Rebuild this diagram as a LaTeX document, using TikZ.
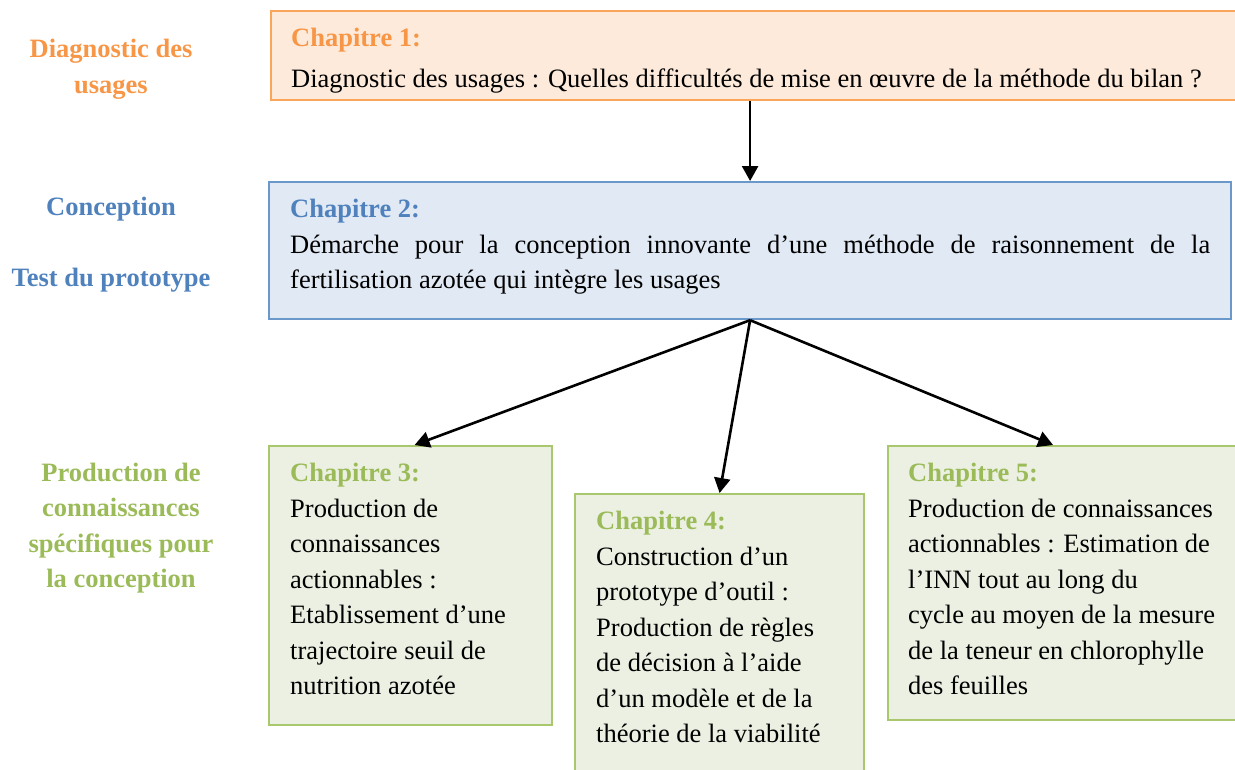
\documentclass[tikz,border=0pt]{standalone}
\usepackage{fontspec}
\setmainfont{Liberation Serif}
\usetikzlibrary{arrows.meta}
\definecolor{orangeT}{HTML}{F79646}
\definecolor{orangeL}{HTML}{F9A65A}
\definecolor{orangeF}{HTML}{FDEADA}
\definecolor{blueT}{HTML}{4F81BD}
\definecolor{blueL}{HTML}{6A98CB}
\definecolor{blueF}{HTML}{E1E9F4}
\definecolor{greenT}{HTML}{9BBB59}
\definecolor{greenL}{HTML}{A9C76C}
\definecolor{greenF}{HTML}{EBF0E2}
\newcommand{\bigtxt}{\fontsize{26.5}{35.5}\selectfont}
\begin{document}
\begin{tikzpicture}[x=1pt, y=-1pt,
  chapbox/.style={draw, line width=2.2pt, inner sep=0pt, anchor=north west},
  chaptext/.style={anchor=north west, inner sep=0pt, align=left, font=\bigtxt},
  sidelabel/.style={align=center, font=\bigtxt\bfseries},
  arr/.style={line width=2.6pt, -{Triangle[length=15pt,width=16pt]}}]
\useasboundingbox (0,0) rectangle (1235,769);

% boxes
\node[chapbox, draw=orangeL, fill=orangeF, minimum width=990, minimum height=89] (box1) at (270,10) {};
\node[chapbox, draw=blueL, fill=blueF, minimum width=962, minimum height=137] (box2) at (268,181) {};
\node[chapbox, draw=greenL, fill=greenF, minimum width=283, minimum height=279] (box3) at (268,445) {};
\node[chapbox, draw=greenL, fill=greenF, minimum width=289, minimum height=290] (box4) at (574,493) {};
\node[chapbox, draw=greenL, fill=greenF, minimum width=370, minimum height=274] (box5) at (887,445) {};

% texts
\node[chaptext] (t1) at ([shift={(21,18)}]box1.north west)
  {{\bfseries\color{orangeT}Chapitre 1:}\\[5pt]Diagnostic des usages : Quelles difficultés de mise en œuvre de la méthode du bilan ?};
\node[chaptext, text width=920, align=justify] (t2) at ([shift={(22,18)}]box2.north west)
  {{\bfseries\color{blueT}Chapitre 2:}\\Démarche pour la conception innovante d’une méthode de raisonnement de la\linebreak fertilisation azotée qui intègre les usages};
\node[chaptext] (t3) at ([shift={(22,18)}]box3.north west)
  {{\bfseries\color{greenT}Chapitre 3:}\\Production de\\connaissances\\actionnables :\\Etablissement d’une\\trajectoire seuil de\\nutrition azotée};
\node[chaptext] (t4) at ([shift={(22,18)}]box4.north west)
  {{\bfseries\color{greenT}Chapitre 4:}\\Construction d’un\\prototype d’outil :\\Production de règles\\de décision à l’aide\\d’un modèle et de la\\théorie de la viabilité};
\node[chaptext] (t5) at ([shift={(21,18)}]box5.north west)
  {{\bfseries\color{greenT}Chapitre 5:}\\Production de connaissances\\actionnables : Estimation de\\l’INN tout au long du\\cycle au moyen de la mesure\\de la teneur en chlorophylle\\des feuilles};

% left labels
\node[sidelabel, text=orangeT] (diag) at (111,69) {Diagnostic des\\usages};
\node[sidelabel, text=blueT] (conc) at (111,209) {Conception};
\node[sidelabel, text=blueT] (test) at (111,280) {Test du prototype};
\node[sidelabel, text=greenT] (prod) at (121,528) {Production de\\connaissances\\spécifiques pour\\la conception};

% arrows
\draw[arr] (box1.south -| box2.north) -- (box2.north);
\draw[arr] (box2.south) -- ([xshift=4]box3.north);
\draw[arr] (box2.south) -- (box4.north);
\draw[arr] (box2.south) -- ([xshift=-20]box5.north);
\end{tikzpicture}
\end{document}
